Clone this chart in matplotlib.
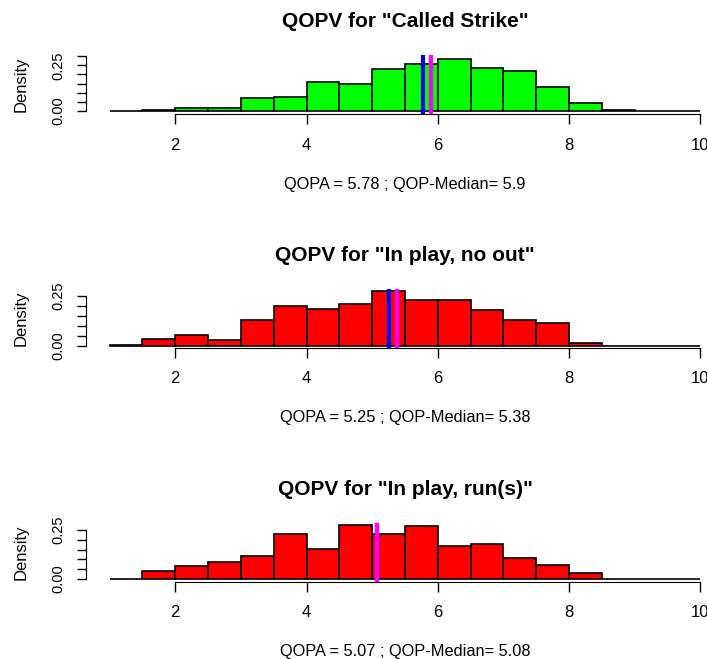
import matplotlib
matplotlib.use("Agg")
import matplotlib.pyplot as plt
import numpy as np

plt.rcParams['font.family'] = ['Liberation Sans', 'DejaVu Sans']

# histogram breaks (width 0.5 from 1 to 10)
breaks = [1.0, 1.5, 2.0, 2.5, 3.0, 3.5, 4.0, 4.5, 5.0, 5.5,
          6.0, 6.5, 7.0, 7.5, 8.0, 8.5, 9.0, 9.5, 10.0]

titles = ['QOPV for "Called Strike"',
          'QOPV for "In play, no out"',
          'QOPV for "In play, run(s)"']

called_strike = [0.000, 0.005, 0.018, 0.016, 0.071, 0.078, 0.157, 0.146, 0.230,
                 0.258, 0.283, 0.237, 0.220, 0.130, 0.045, 0.005, 0.000, 0.000]
no_out = [0.005, 0.032, 0.054, 0.030, 0.126, 0.200, 0.185, 0.209, 0.273,
          0.231, 0.231, 0.177, 0.126, 0.114, 0.015, 0.000, 0.000, 0.000]
runs = [0.000, 0.040, 0.069, 0.086, 0.119, 0.229, 0.156, 0.277, 0.229,
        0.270, 0.167, 0.180, 0.108, 0.070, 0.029, 0.000, 0.000, 0.000]

qopa = [5.78, 5.25, 5.07]
qop_median = [5.9, 5.38, 5.08]
median_labels = ["5.9", "5.38", "5.08"]

series = [called_strike, no_out, runs]
fills = ["#00FF00", "#FF0000", "#FF0000"]

W, H = 707, 659
fig = plt.figure(figsize=(W / 100, H / 100), dpi=100)

# plot regions in pixels (top, bottom) and y ranges
regions = [(55, 114), (289, 347.5), (523, 581.7)]
ylims = [(-0.016, 0.306), (-0.010, 0.284), (-0.014, 0.287)]
ytops = [0.30, 0.25, 0.25]

left_px, right_px = 86, 724
edges = np.array(breaks)
for i, dens in enumerate(series):
    top, bot = regions[i]
    ax = fig.add_axes([left_px / W, 1 - bot / H, (right_px - left_px) / W, (bot - top) / H])
    ax.bar(edges[:-1], dens, width=np.diff(edges), align='edge',
           color=fills[i], edgecolor='black', linewidth=1.2, zorder=2)
    ax.axvline(qopa[i], color='#0000FF', linewidth=3, zorder=3)
    ax.axvline(qop_median[i], color='#FF00FF', linewidth=3, zorder=4)

    ax.set_xlim(0.64, 10.36)
    ax.set_ylim(*ylims[i])
    for s in ['top', 'right']:
        ax.spines[s].set_visible(False)
    ax.spines['left'].set_bounds(0, ytops[i])
    ax.spines['bottom'].set_bounds(2, 10)
    ax.set_xticks([2, 4, 6, 8, 10])
    yt = np.arange(0, ytops[i] + 0.001, 0.05)
    ax.set_yticks(yt)
    ax.set_yticklabels(['0.00' if abs(v) < 1e-9 else ('0.25' if abs(v - 0.25) < 1e-9 else '') for v in yt],
                       rotation=90, va='center')
    ax.tick_params(axis='y', length=6.5, width=1, pad=8.5, labelsize=10.5)
    ax.tick_params(axis='x', length=7, width=1, pad=10, labelsize=12)
    ax.set_ylabel('Density', fontsize=12, labelpad=16.5)
    ax.set_title(titles[i], fontsize=15, fontweight='bold', pad=20.5)
    ax.set_xlabel('QOPA = %.2f ; QOP-Median= %s' % (qopa[i], median_labels[i]),
                  fontsize=11.8, labelpad=17.3)
    ax.patch.set_visible(False)

fig.savefig('out.png', dpi=100, facecolor='white')
